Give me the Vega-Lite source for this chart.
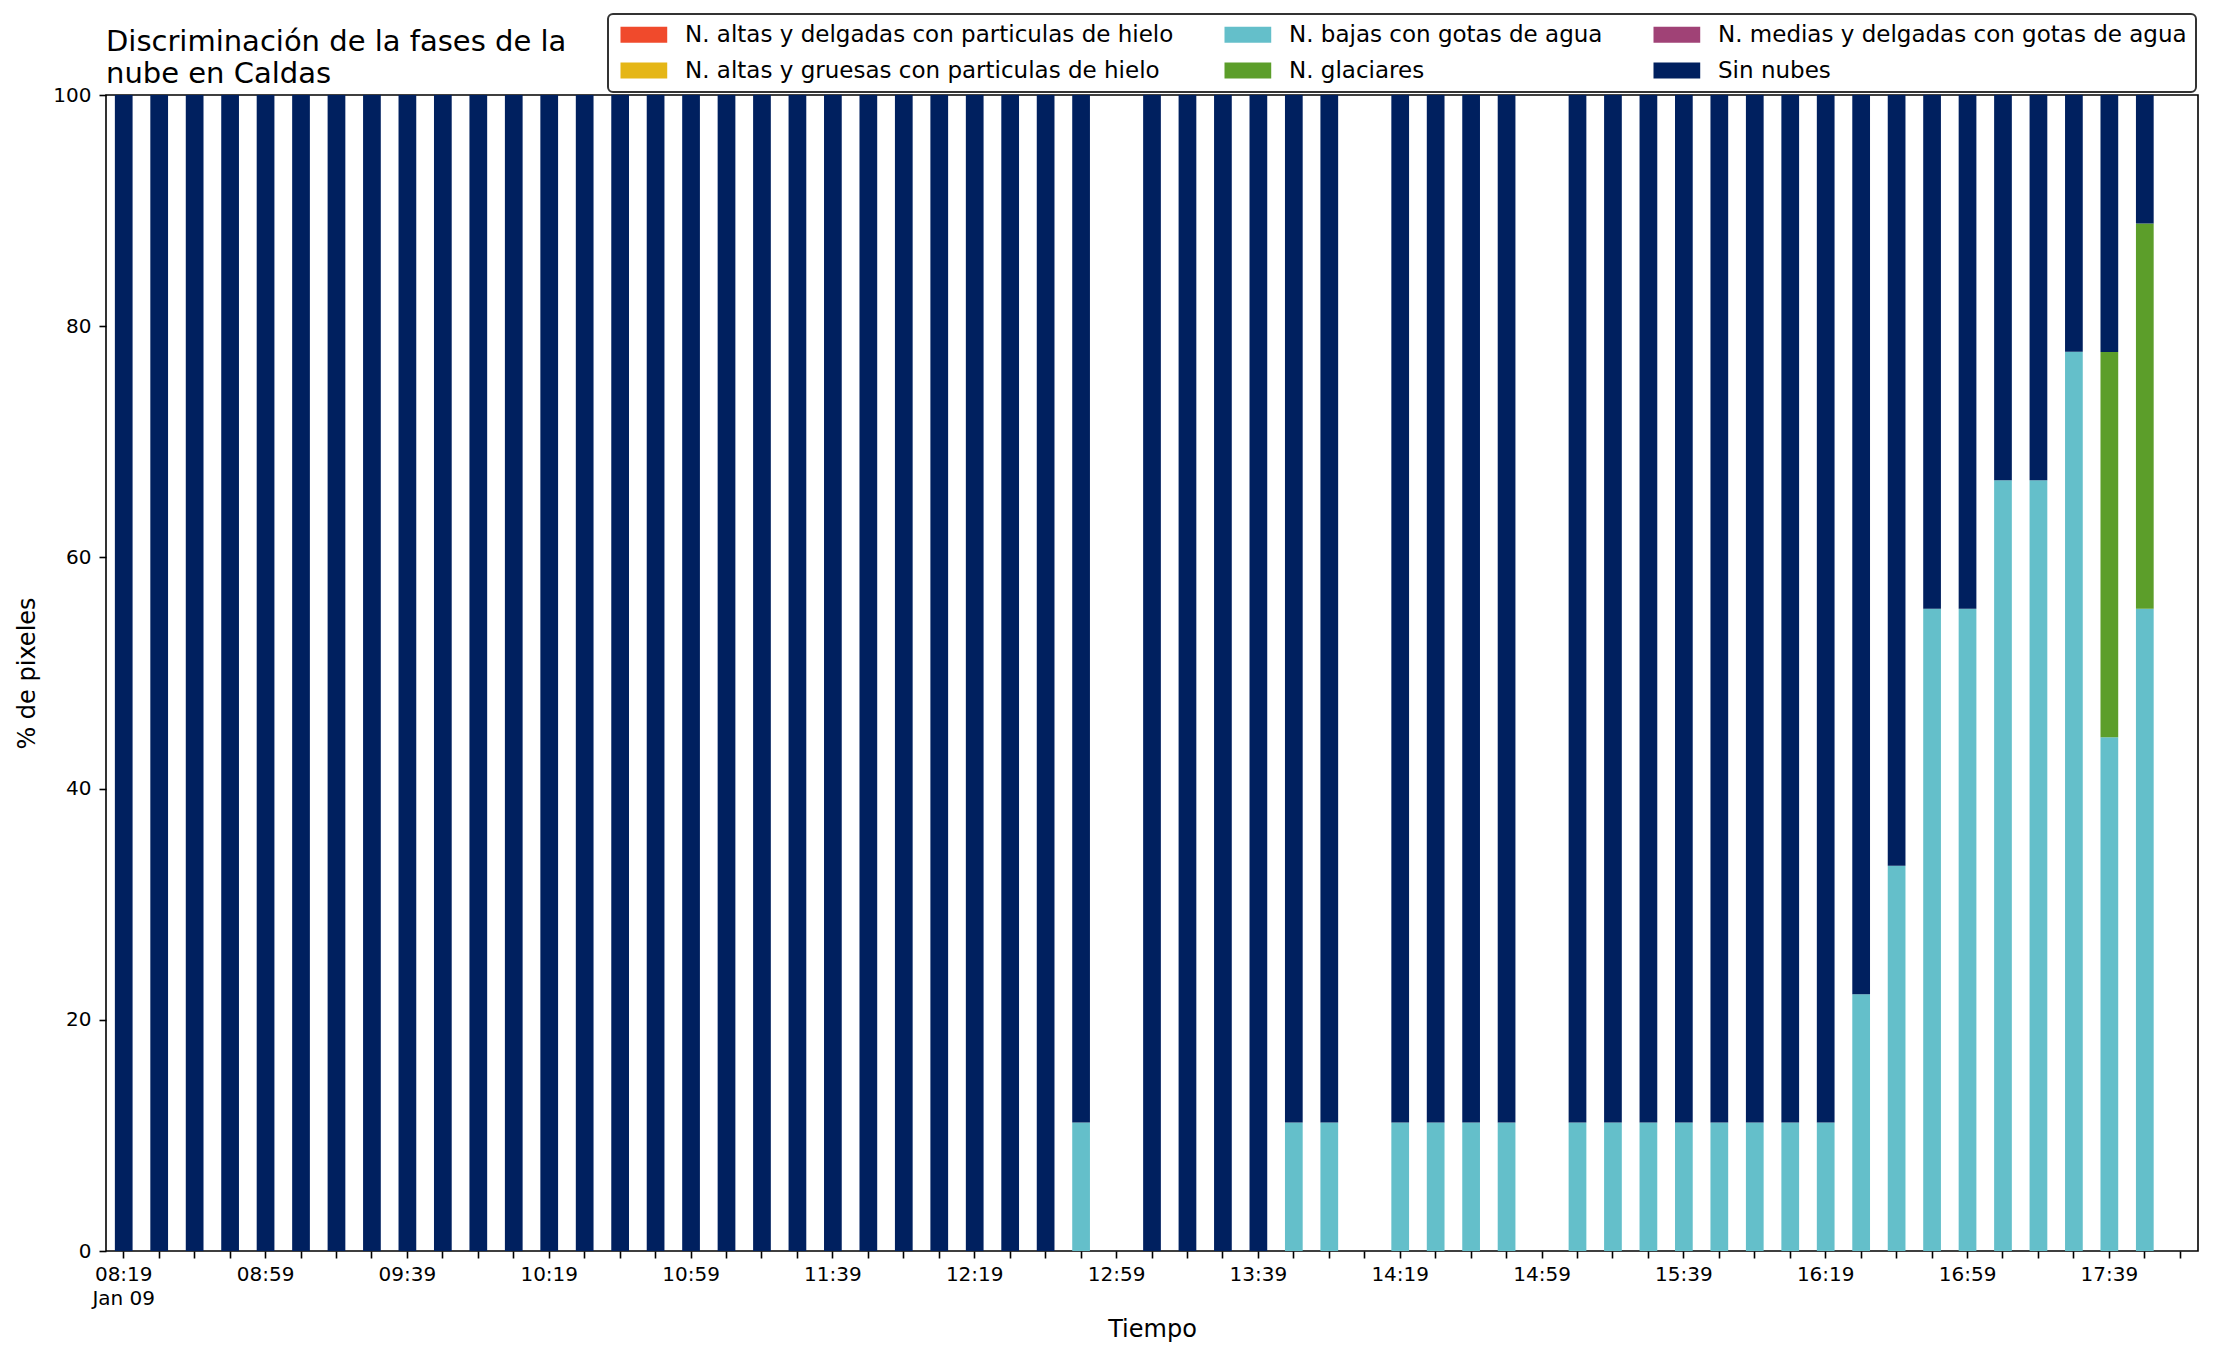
{
  "$schema": "https://vega.github.io/schema/vega-lite/v6.json",
  "width": 2092,
  "height": 1156,
  "autosize": {"type": "none"},
  "padding": {"left": 106, "top": 95, "right": 18, "bottom": 104},
  "background": "white",
  "config": {
    "font": "DejaVu Sans",
    "view": {"stroke": "#000000", "strokeWidth": 1.6}
  },
  "title": {
    "text": ["Discriminación de la fases de la", "nube en Caldas"],
    "anchor": "start",
    "frame": "group",
    "font": "DejaVu Sans",
    "fontSize": 29,
    "fontWeight": "normal",
    "color": "#000000",
    "lineHeight": 32.5,
    "offset": 7,
    "dy": 83
  },
  "data": {
    "values": [
      {"hora": "08:19", "fase": "Sin nubes", "pct": 100},
      {"hora": "08:29", "fase": "Sin nubes", "pct": 100},
      {"hora": "08:39", "fase": "Sin nubes", "pct": 100},
      {"hora": "08:49", "fase": "Sin nubes", "pct": 100},
      {"hora": "08:59", "fase": "Sin nubes", "pct": 100},
      {"hora": "09:09", "fase": "Sin nubes", "pct": 100},
      {"hora": "09:19", "fase": "Sin nubes", "pct": 100},
      {"hora": "09:29", "fase": "Sin nubes", "pct": 100},
      {"hora": "09:39", "fase": "Sin nubes", "pct": 100},
      {"hora": "09:49", "fase": "Sin nubes", "pct": 100},
      {"hora": "09:59", "fase": "Sin nubes", "pct": 100},
      {"hora": "10:09", "fase": "Sin nubes", "pct": 100},
      {"hora": "10:19", "fase": "Sin nubes", "pct": 100},
      {"hora": "10:29", "fase": "Sin nubes", "pct": 100},
      {"hora": "10:39", "fase": "Sin nubes", "pct": 100},
      {"hora": "10:49", "fase": "Sin nubes", "pct": 100},
      {"hora": "10:59", "fase": "Sin nubes", "pct": 100},
      {"hora": "11:09", "fase": "Sin nubes", "pct": 100},
      {"hora": "11:19", "fase": "Sin nubes", "pct": 100},
      {"hora": "11:29", "fase": "Sin nubes", "pct": 100},
      {"hora": "11:39", "fase": "Sin nubes", "pct": 100},
      {"hora": "11:49", "fase": "Sin nubes", "pct": 100},
      {"hora": "11:59", "fase": "Sin nubes", "pct": 100},
      {"hora": "12:09", "fase": "Sin nubes", "pct": 100},
      {"hora": "12:19", "fase": "Sin nubes", "pct": 100},
      {"hora": "12:29", "fase": "Sin nubes", "pct": 100},
      {"hora": "12:39", "fase": "Sin nubes", "pct": 100},
      {"hora": "12:49", "fase": "N. bajas con gotas de agua", "pct": 11.11},
      {"hora": "12:49", "fase": "Sin nubes", "pct": 88.89},
      {"hora": "13:09", "fase": "Sin nubes", "pct": 100},
      {"hora": "13:19", "fase": "Sin nubes", "pct": 100},
      {"hora": "13:29", "fase": "Sin nubes", "pct": 100},
      {"hora": "13:39", "fase": "Sin nubes", "pct": 100},
      {"hora": "13:49", "fase": "N. bajas con gotas de agua", "pct": 11.11},
      {"hora": "13:49", "fase": "Sin nubes", "pct": 88.89},
      {"hora": "13:59", "fase": "N. bajas con gotas de agua", "pct": 11.11},
      {"hora": "13:59", "fase": "Sin nubes", "pct": 88.89},
      {"hora": "14:19", "fase": "N. bajas con gotas de agua", "pct": 11.11},
      {"hora": "14:19", "fase": "Sin nubes", "pct": 88.89},
      {"hora": "14:29", "fase": "N. bajas con gotas de agua", "pct": 11.11},
      {"hora": "14:29", "fase": "Sin nubes", "pct": 88.89},
      {"hora": "14:39", "fase": "N. bajas con gotas de agua", "pct": 11.11},
      {"hora": "14:39", "fase": "Sin nubes", "pct": 88.89},
      {"hora": "14:49", "fase": "N. bajas con gotas de agua", "pct": 11.11},
      {"hora": "14:49", "fase": "Sin nubes", "pct": 88.89},
      {"hora": "15:09", "fase": "N. bajas con gotas de agua", "pct": 11.11},
      {"hora": "15:09", "fase": "Sin nubes", "pct": 88.89},
      {"hora": "15:19", "fase": "N. bajas con gotas de agua", "pct": 11.11},
      {"hora": "15:19", "fase": "Sin nubes", "pct": 88.89},
      {"hora": "15:29", "fase": "N. bajas con gotas de agua", "pct": 11.11},
      {"hora": "15:29", "fase": "Sin nubes", "pct": 88.89},
      {"hora": "15:39", "fase": "N. bajas con gotas de agua", "pct": 11.11},
      {"hora": "15:39", "fase": "Sin nubes", "pct": 88.89},
      {"hora": "15:49", "fase": "N. bajas con gotas de agua", "pct": 11.11},
      {"hora": "15:49", "fase": "Sin nubes", "pct": 88.89},
      {"hora": "15:59", "fase": "N. bajas con gotas de agua", "pct": 11.11},
      {"hora": "15:59", "fase": "Sin nubes", "pct": 88.89},
      {"hora": "16:09", "fase": "N. bajas con gotas de agua", "pct": 11.11},
      {"hora": "16:09", "fase": "Sin nubes", "pct": 88.89},
      {"hora": "16:19", "fase": "N. bajas con gotas de agua", "pct": 11.11},
      {"hora": "16:19", "fase": "Sin nubes", "pct": 88.89},
      {"hora": "16:29", "fase": "N. bajas con gotas de agua", "pct": 22.22},
      {"hora": "16:29", "fase": "Sin nubes", "pct": 77.78},
      {"hora": "16:39", "fase": "N. bajas con gotas de agua", "pct": 33.33},
      {"hora": "16:39", "fase": "Sin nubes", "pct": 66.67},
      {"hora": "16:49", "fase": "N. bajas con gotas de agua", "pct": 55.56},
      {"hora": "16:49", "fase": "Sin nubes", "pct": 44.44},
      {"hora": "16:59", "fase": "N. bajas con gotas de agua", "pct": 55.56},
      {"hora": "16:59", "fase": "Sin nubes", "pct": 44.44},
      {"hora": "17:09", "fase": "N. bajas con gotas de agua", "pct": 66.67},
      {"hora": "17:09", "fase": "Sin nubes", "pct": 33.33},
      {"hora": "17:19", "fase": "N. bajas con gotas de agua", "pct": 66.67},
      {"hora": "17:19", "fase": "Sin nubes", "pct": 33.33},
      {"hora": "17:29", "fase": "N. bajas con gotas de agua", "pct": 77.78},
      {"hora": "17:29", "fase": "Sin nubes", "pct": 22.22},
      {"hora": "17:39", "fase": "N. bajas con gotas de agua", "pct": 44.44},
      {"hora": "17:39", "fase": "N. glaciares", "pct": 33.33},
      {"hora": "17:39", "fase": "Sin nubes", "pct": 22.23},
      {"hora": "17:49", "fase": "N. bajas con gotas de agua", "pct": 55.56},
      {"hora": "17:49", "fase": "N. glaciares", "pct": 33.33},
      {"hora": "17:49", "fase": "Sin nubes", "pct": 11.11}
    ]
  },
  "mark": {"type": "bar"},
  "encoding": {
    "x": {
      "field": "hora",
      "type": "ordinal",
      "scale": {
        "domain": ["08:19","08:29","08:39","08:49","08:59","09:09","09:19","09:29","09:39","09:49","09:59","10:09","10:19","10:29","10:39","10:49","10:59","11:09","11:19","11:29","11:39","11:49","11:59","12:09","12:19","12:29","12:39","12:49","12:59","13:09","13:19","13:29","13:39","13:49","13:59","14:09","14:19","14:29","14:39","14:49","14:59","15:09","15:19","15:29","15:39","15:49","15:59","16:09","16:19","16:29","16:39","16:49","16:59","17:09","17:19","17:29","17:39","17:49","17:59"],
        "paddingInner": 0.5,
        "paddingOuter": 0.25
      },
      "axis": {
        "title": "Tiempo",
        "titleFontSize": 24,
        "titleFontWeight": "normal",
        "titleColor": "#000000",
        "titleBaseline": "alphabetic",
        "titleY": 85,
        "labelExpr": "datum.value == '08:19' ? ['08:19', 'Jan 09'] : (indexof(['08:59','09:39','10:19','10:59','11:39','12:19','12:59','13:39','14:19','14:59','15:39','16:19','16:59','17:39'], datum.value) >= 0 ? datum.value : '')",
        "labelAngle": 0,
        "labelFontSize": 20,
        "labelLineHeight": 24,
        "labelColor": "#000000",
        "labelBaseline": "top",
        "labelPadding": 6,
        "labelOverlap": false,
        "labelFlush": false,
        "tickSize": 7,
        "tickWidth": 1.6,
        "tickColor": "#000000",
        "domain": false,
        "grid": false
      }
    },
    "y": {
      "field": "pct",
      "type": "quantitative",
      "stack": "zero",
      "scale": {"domain": [0, 100], "nice": false},
      "axis": {
        "title": "% de pixeles",
        "titleFontSize": 24,
        "titleFontWeight": "normal",
        "titleColor": "#000000",
        "titleBaseline": "alphabetic",
        "titleX": -72,
        "titleY": 578,
        "values": [0, 20, 40, 60, 80, 100],
        "labelFontSize": 20,
        "labelColor": "#000000",
        "labelPadding": 8,
        "tickSize": 7,
        "tickWidth": 1.6,
        "tickColor": "#000000",
        "domain": false,
        "grid": false
      }
    },
    "color": {
      "field": "fase",
      "type": "nominal",
      "scale": {
        "domain": ["N. altas y delgadas con particulas de hielo", "N. altas y gruesas con particulas de hielo", "N. bajas con gotas de agua", "N. glaciares", "N. medias y delgadas con gotas de agua", "Sin nubes"],
        "range": ["#F04A2C", "#E5B616", "#64BFCA", "#5C9E2A", "#A04276", "#00205F"]
      },
      "legend": {
        "title": null,
        "orient": "none",
        "legendX": 502,
        "legendY": -81,
        "columns": 3,
        "columnPadding": 47,
        "rowPadding": 12,
        "labelFontSize": 23,
        "labelColor": "#000000",
        "labelLimit": 2000,
        "labelOffset": 45,
        "symbolType": "M-1,-1L4.84,-1L4.84,1L-1,1Z",
        "symbolSize": 256,
        "symbolStrokeWidth": 0,
        "symbolOpacity": 1,
        "padding": 9,
        "strokeColor": "#333333",
        "fillColor": "#ffffff",
        "cornerRadius": 5,
        "encode": {"legend": {"update": {"strokeWidth": {"value": 2}}}}
      }
    },
    "order": {"field": "fase", "sort": "ascending"}
  }
}
